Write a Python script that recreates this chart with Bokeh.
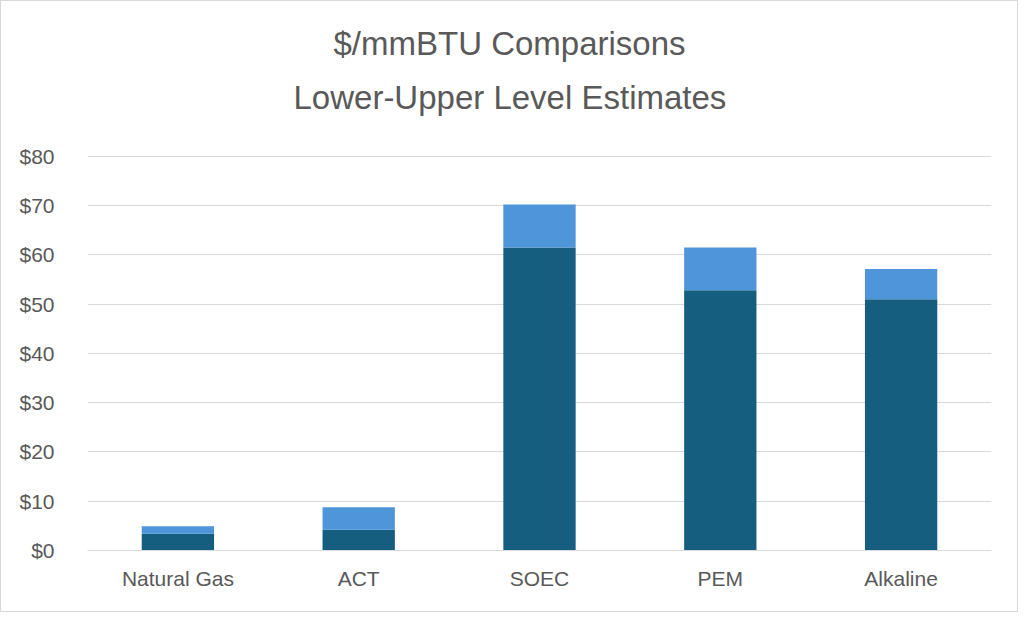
from bokeh.plotting import figure
from bokeh.models import Range1d, FixedTicker, NumeralTickFormatter, Title
from bokeh.embed import file_html
from bokeh.resources import INLINE

categories = ["Natural Gas", "ACT", "SOEC", "PEM", "Alkaline"]
lower_level = [3.4, 4.2, 61.5, 52.8, 51.0]
upper_increment = [1.5, 4.6, 8.7, 8.7, 6.1]
y_ticks = [0, 10, 20, 30, 40, 50, 60, 70, 80]
title_lines = ["$/mmBTU Comparisons", "Lower-Upper Level Estimates"]

FONT = "Liberation Sans"
GREY = "#595959"

p = figure(x_range=categories, y_range=Range1d(0, 80.15), width=1018, height=612,
           output_backend="svg", toolbar_location=None,
           min_border_left=86, min_border_right=28, min_border_top=154, min_border_bottom=63)
p.styles = {"border": "1px solid #d9d9d9"}

data = dict(cat=categories, lower=lower_level, upper=upper_increment)
p.vbar_stack(["lower", "upper"], x="cat", width=0.4, source=data,
             color=["#165E80", "#4F95D9"], line_color=None)

p.outline_line_color = None
p.xgrid.grid_line_color = None
p.ygrid.grid_line_color = "#d9d9d9"
p.ygrid.grid_line_width = 1
p.yaxis.ticker = FixedTicker(ticks=y_ticks)
p.yaxis.formatter = NumeralTickFormatter(format="$0")

for ax in (p.xaxis, p.yaxis):
    ax.major_tick_line_color = None
    ax.minor_tick_line_color = None
    ax.major_label_text_font = FONT
    ax.major_label_text_font_size = "21px"
    ax.major_label_text_color = GREY
p.yaxis.axis_line_color = None
p.xaxis.axis_line_color = "#d9d9d9"
p.yaxis.major_label_standoff = 27
p.xaxis.major_label_standoff = 10

# line closest to the plot is added first; left-aligned with offsets so that
# both lines are centred on the whole chart rather than on the plot frame
p.add_layout(Title(text=title_lines[1], align="left", offset=206, standoff=80,
                   text_font=FONT, text_font_size="33px", text_color=GREY,
                   text_font_style="normal"), "above")
p.add_layout(Title(text=title_lines[0], align="left", offset=246, standoff=-50,
                   text_font=FONT, text_font_size="33px", text_color=GREY,
                   text_font_style="normal"), "above")

open("out.html", "w").write(file_html(p, INLINE))
